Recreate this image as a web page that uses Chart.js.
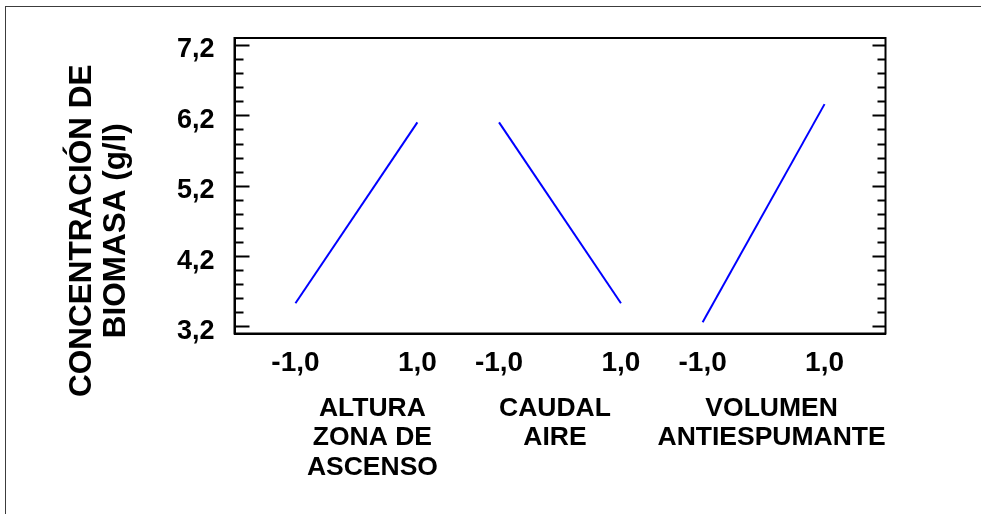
<!DOCTYPE html>
<html>
<head>
<meta charset="utf-8">
<script src="https://cdn.jsdelivr.net/npm/chart.js@4"></script>
<style>
  html, body { margin: 0; padding: 0; background: #fff; overflow: hidden; }
  #wrap { position: relative; width: 981px; height: 514px; overflow: hidden; }
  #frame { position: absolute; left: 5px; top: 6px; width: 1100px; height: 700px;
           border-left: 1px solid #3c3c3c; border-top: 1px solid #3c3c3c; }
  canvas { position: absolute; left: 0; top: 0; }
</style>
</head>
<body>
<div id="wrap">
  <div id="frame"></div>
  <canvas id="chart" width="981" height="514"></canvas>
</div>
<script>
// Main effects for biomass concentration (coded levels -1 / +1)
const factorNames = [
  ['ALTURA', 'ZONA DE', 'ASCENSO'],
  ['CAUDAL', 'AIRE'],
  ['VOLUMEN', 'ANTIESPUMANTE']
];
const levels = [-1, 1];
const levelLabels = ['-1,0', '1,0'];
const lowLevelMeans = [3.53, 6.10, 3.26];
const highLevelMeans = [6.10, 3.53, 6.36];
const yTickValues = [3.2, 4.2, 5.2, 6.2, 7.2];
const yAxisTitle = ['CONCENTRACIÓN DE', 'BIOMASA (g/l)'];

// Panel layout along the shared x scale (in coded-level units)
const PANEL_SPAN = 2;
const PANEL_GAP = 1.34;
const EDGE = 1;
const xMax = 2 * EDGE + factorNames.length * PANEL_SPAN + (factorNames.length - 1) * PANEL_GAP;
const levelPos = (f, lv) => EDGE + f * (PANEL_SPAN + PANEL_GAP) + (lv + 1);
const tickPositions = [];
factorNames.forEach((_, f) => levels.forEach(lv => tickPositions.push(levelPos(f, lv))));

const FONT = "'Liberation Sans', Arial, sans-serif";
const labelNudge = [16, -5, 8];

const datasets = factorNames.map((_, f) => ({
  data: [
    { x: levelPos(f, levels[0]), y: lowLevelMeans[f] },
    { x: levelPos(f, levels[1]), y: highLevelMeans[f] }
  ],
  showLine: true,
  borderColor: '#0000ff',
  backgroundColor: '#0000ff',
  borderWidth: 2,
  pointRadius: 0,
  pointHoverRadius: 0,
  fill: false
}));

// Frame, inward tick marks, y title and factor names
const decorations = {
  id: 'decorations',
  afterDraw(chart) {
    const { ctx, chartArea: a, scales } = chart;
    const y = scales.y, x = scales.x;
    ctx.save();
    ctx.strokeStyle = '#000';
    ctx.lineWidth = 2;
    ctx.strokeRect(a.left, a.top, a.right - a.left, a.bottom - a.top);

    // minor ticks every 0.2, major every 1.0
    ctx.lineWidth = 2;
    for (let k = 0; k <= 20; k++) {
      const v = yTickValues[0] + k * 0.2;
      const py = Math.round(y.getPixelForValue(v)) + 0.5;
      const major = k % 5 === 0;
      ctx.beginPath();
      ctx.moveTo(a.left, py);
      ctx.lineTo(a.left + (major ? 15 : 9), py);
      ctx.moveTo(a.right, py);
      ctx.lineTo(a.right - (major ? 13 : 8), py);
      ctx.stroke();
    }

    // y-axis title, rotated
    ctx.fillStyle = '#000';
    ctx.font = `bold 31.5px ${FONT}`;
    ctx.textAlign = 'center';
    ctx.textBaseline = 'middle';
    const cy = (a.top + a.bottom) / 2 + 45;
    [82, 116].forEach((cx, i) => {
      ctx.save();
      ctx.translate(cx, cy);
      ctx.rotate(-Math.PI / 2);
      ctx.fillText(yAxisTitle[i], 0, 0);
      ctx.restore();
    });

    // factor names under each panel
    ctx.font = `bold 26.5px ${FONT}`;
    factorNames.forEach((lines, f) => {
      const cx = x.getPixelForValue(levelPos(f, 0)) + labelNudge[f];
      lines.forEach((t, i) => {
        ctx.fillText(t, cx, a.bottom + 75 + i * 29.5);
      });
    });
    ctx.restore();
  }
};

new Chart(document.getElementById('chart'), {
  type: 'scatter',
  data: { datasets },
  plugins: [decorations],
  options: {
    responsive: false,
    animation: false,
    events: [],
    layout: { padding: { left: 0, top: 38, right: 95.5, bottom: 0 } },
    plugins: { legend: { display: false }, tooltip: { enabled: false } },
    scales: {
      x: {
        type: 'linear',
        min: 0,
        max: xMax,
        afterBuildTicks: axis => { axis.ticks = tickPositions.map(v => ({ value: v })); },
        afterFit: axis => { axis.height = 180.5; },
        grid: { display: false, drawTicks: false },
        border: { display: true, color: '#000', width: 2 },
        ticks: {
          autoSkip: false,
          maxRotation: 0,
          padding: 13,
          color: '#000',
          font: { family: FONT, size: 28, weight: 'bold' },
          callback: (v, i) => levelLabels[i % levelLabels.length]
        }
      },
      y: {
        type: 'linear',
        min: 3.1,
        max: 7.3,
        afterBuildTicks: axis => { axis.ticks = yTickValues.map(v => ({ value: v })); },
        afterFit: axis => { axis.width = 234.5; },
        grid: { display: false, drawTicks: false },
        border: { display: true, color: '#000', width: 2 },
        ticks: {
          padding: 20,
          labelOffset: 5,
          color: '#000',
          font: { family: FONT, size: 27, weight: 'bold' },
          callback: v => v.toFixed(1).replace('.', ',')
        }
      }
    }
  }
});
</script>
</body>
</html>
